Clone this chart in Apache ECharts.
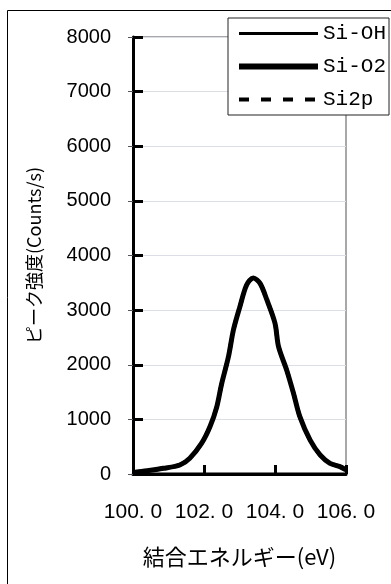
<!DOCTYPE html>
<html>
<head>
<meta charset="utf-8">
<script src="https://cdn.jsdelivr.net/npm/echarts@6/dist/echarts.min.js"></script>
<style>
  html, body { margin: 0; padding: 0; background: #fff; }
  #chart { width: 391px; height: 584px; }
</style>
</head>
<body>
<div id="chart"></div>
<script>
// Binding energy (eV) sampled across the Si 2p region
const energy = [100.0, 100.4, 100.85, 101.32, 101.6, 101.93, 102.17, 102.36, 102.5, 102.69,
                102.83, 103.01, 103.2, 103.39, 103.58, 103.77, 104.0, 104.1, 104.33, 104.52,
                104.7, 104.99, 105.27, 105.55, 105.83, 106.0];
// Fitted Si-O2 component (Counts/s)
const siO2 = [30, 60, 104, 165, 290, 560, 870, 1230, 1660, 2150,
              2640, 3060, 3460, 3590, 3490, 3190, 2760, 2330, 1900, 1480,
              1050, 620, 350, 195, 135, 75];
// Si-OH component (no intensity in this region)
const siOH = [0, 0, 0, 0, 0, 0, 0, 0, 0, 0, 0, 0, 0, 0, 0, 0, 0, 0, 0, 0, 0, 0, 0, 0, 0, 0];
// Measured Si 2p envelope
const si2p = [30, 60, 104, 165, 290, 560, 870, 1230, 1660, 2150,
              2640, 3060, 3460, 3590, 3490, 3190, 2760, 2330, 1900, 1480,
              1050, 620, 350, 195, 135, 75];

const seriesNames = ['Si-OH', 'Si-O2', 'Si2p'];
const xTicks = [100, 102, 104, 106];
const yTicks = [0, 1000, 2000, 3000, 4000, 5000, 6000, 7000, 8000];

const pairs = (ys) => energy.map((x, i) => [x, ys[i]]);

const chart = echarts.init(document.getElementById('chart'));

const yRange = { type: 'value', min: yTicks[0], max: yTicks[yTicks.length - 1], interval: 1000 };

chart.setOption({
  animation: false,
  backgroundColor: '#fff',
  graphic: [{
    type: 'rect',
    silent: true,
    shape: { x: 7.5, y: 10.5, width: 420, height: 620 },
    style: { fill: 'none', stroke: '#000', lineWidth: 1 }
  }],
  grid: { left: 133, top: 37, right: 45, bottom: 110, show: true, borderColor: '#8c8c8c', borderWidth: 1.5 },
  legend: {
    orient: 'vertical', left: 228, top: 18,
    padding: [5, 3, 5, 8], itemGap: 12, itemWidth: 79, itemHeight: 14,
    backgroundColor: '#fff', borderColor: '#222', borderWidth: 1,
    itemStyle: { opacity: 0 },
    textStyle: { fontFamily: "'Liberation Mono'", fontSize: 21, lineHeight: 20, color: '#000' },
    data: [
      { name: seriesNames[0], lineStyle: { width: 3 } },
      { name: seriesNames[1], lineStyle: { width: 6 } },
      { name: seriesNames[2], lineStyle: { width: 4 } }
    ]
  },
  xAxis: {
    type: 'value', min: xTicks[0], max: xTicks[xTicks.length - 1], interval: 2,
    name: '結合エネルギー(eV)', nameLocation: 'middle', nameGap: 72,
    nameTextStyle: { fontFamily: "'Noto Sans CJK JP'", fontSize: 22, color: '#000' },
    axisLine: { lineStyle: { color: '#000', width: 3 } },
    axisTick: { inside: true, length: 9, lineStyle: { color: '#000', width: 3 } },
    axisLabel: {
      margin: 28, fontFamily: "'Liberation Sans'", fontSize: 21, color: '#000',
      formatter: (v) => v.toFixed(1).replace('.', '. ')
    },
    splitLine: { show: false }
  },
  yAxis: [
    {
      // labels and title
      ...yRange,
      name: 'ピーク強度(Counts/s)', nameLocation: 'middle', nameGap: 90,
      nameTextStyle: { fontFamily: "'Noto Sans CJK JP'", fontSize: 18, color: '#000' },
      axisLabel: { margin: 22, fontFamily: "'Liberation Sans'", fontSize: 20, color: '#000', formatter: (v) => String(v) }
    },
    {
      // heavy left spine with inward ticks
      ...yRange,
      position: 'left',
      axisLine: { show: true, lineStyle: { color: '#000', width: 3 } },
      axisTick: { show: true, inside: true, length: 10, lineStyle: { color: '#000', width: 3 } },
      axisLabel: { show: false },
      splitLine: { show: false }
    }
  ],
  series: [
    {
      name: seriesNames[0], type: 'line', data: pairs(siOH), symbol: 'none',
      lineStyle: { width: 3, color: '#000' }, itemStyle: { color: '#000' }
    },
    {
      name: seriesNames[1], type: 'line', data: pairs(siO2), symbol: 'none', smooth: 0.3, z: 3,
      lineStyle: { width: 5, color: '#000' }, itemStyle: { color: '#000' }
    },
    {
      name: seriesNames[2], type: 'line', data: pairs(si2p), symbol: 'none', smooth: 0.3,
      lineStyle: { width: 4, color: '#000', type: [10, 12] }, itemStyle: { color: '#000' }
    }
  ]
});
</script>
</body>
</html>
